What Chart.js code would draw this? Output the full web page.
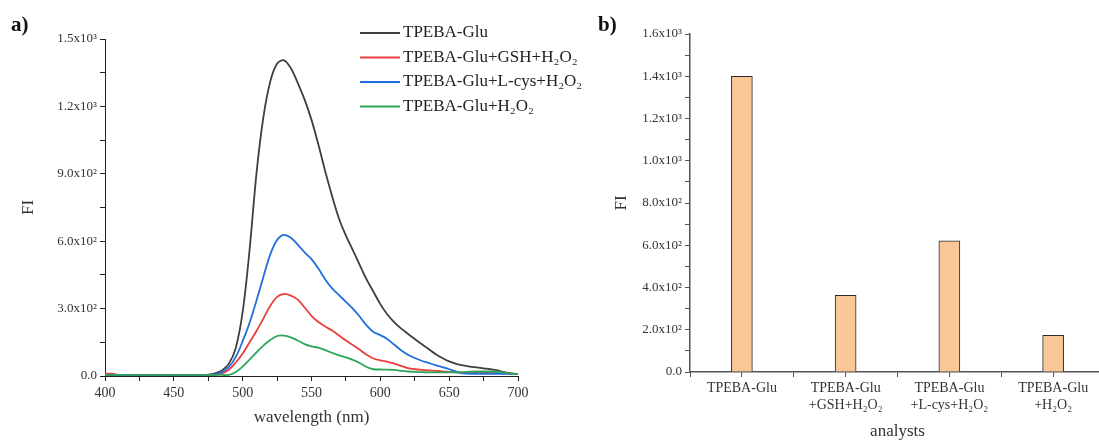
<!DOCTYPE html>
<html>
<head>
<meta charset="utf-8">
<script src="https://cdn.jsdelivr.net/npm/chart.js@4"></script>
<style>
html, body { margin: 0; padding: 0; background: #fff; overflow: hidden; }
#wrapA { position: absolute; left: 0; top: 0; width: 600px; height: 443px; z-index: 2; }
#wrapB { position: absolute; left: 560px; top: 0; width: 548px; height: 443px; z-index: 1; }
</style>
</head>
<body>
<div id="wrapA"><canvas id="chartA"></canvas></div>
<div id="wrapB"><canvas id="chartB"></canvas></div>
<script>
// panel a: emission spectra
const wavelengths = [400, 405, 410, 415, 420, 425, 430, 435, 440, 445, 450, 455, 460, 465, 470, 475, 480, 485, 490, 495,
    500, 505, 510, 515, 520, 525, 530, 535, 540, 545, 550, 555, 560, 565, 570, 575, 580, 585, 590, 595,
    600, 605, 610, 615, 620, 625, 630, 635, 640, 645, 650, 655, 660, 665, 670, 675, 680, 685, 690, 695, 700];

const fiProbe = [5, 5, 5, 5, 5, 5, 5, 5, 5, 5, 5, 5, 5, 5, 5, 6, 12, 25, 55, 125,
    285, 560, 900, 1150, 1310, 1390, 1405, 1370, 1305, 1230, 1140, 1030, 910, 800, 700, 625, 560, 495, 430, 375,
    320, 275, 240, 212, 188, 165, 142, 120, 98, 80, 65, 54, 47, 42, 38, 34, 30, 25, 17, 12, 8];

const fiGSH = [10, 10, 5, 5, 5, 5, 5, 5, 5, 5, 5, 5, 5, 5, 5, 5, 5, 12, 28, 60,
    100, 150, 200, 255, 312, 352, 365, 358, 340, 305, 268, 240, 220, 202, 180, 158, 138, 117, 95, 78,
    70, 64, 55, 45, 35, 30, 27, 25, 23, 21, 18, 16, 15, 15, 15, 14, 14, 13, 12, 10, 8];

const fiCys = [5, 5, 5, 5, 5, 5, 5, 5, 5, 5, 5, 5, 5, 5, 5, 5, 7, 18, 40, 85,
    155, 236, 335, 440, 540, 605, 628, 615, 585, 550, 520, 478, 430, 390, 360, 330, 300, 265, 225, 196,
    182, 165, 140, 115, 95, 80, 68, 58, 48, 40, 30, 20, 12, 10, 10, 10, 10, 10, 10, 9, 8];

const fiH2O2 = [5, 5, 5, 5, 5, 5, 5, 5, 5, 5, 5, 5, 5, 5, 5, 5, 5, 5, 5, 18,
    42, 73, 105, 135, 160, 178, 180, 172, 158, 142, 132, 126, 115, 103, 92, 83, 72, 58, 40, 30,
    29, 28, 27, 23, 20, 18, 17, 16, 16, 16, 16, 16, 17, 19, 20, 20, 20, 19, 15, 10, 8];

const seriesNames = ["TPEBA-Glu", "TPEBA-Glu+GSH+H₂O₂", "TPEBA-Glu+L-cys+H₂O₂", "TPEBA-Glu+H₂O₂"];

// panel b: intensity per analyte
const analysts = [["TPEBA-Glu"], ["TPEBA-Glu", "+GSH+H₂O₂"], ["TPEBA-Glu", "+L-cys+H₂O₂"], ["TPEBA-Glu", "+H₂O₂"]];
const barValues = [1400, 363, 621, 174];

Chart.defaults.font.family = "'Liberation Serif', 'DejaVu Serif', serif";
Chart.defaults.color = "#333";

const sup = { "0": "⁰", "1": "¹", "2": "²", "3": "³", "4": "⁴", "5": "⁵", "6": "⁶", "7": "⁷", "8": "⁸", "9": "⁹" };
function sci(v) {
    if (v === 0) return "0.0";
    const e = Math.floor(Math.log10(v) + 1e-9);
    const m = (v / Math.pow(10, e)).toFixed(1);
    return m + "x10" + String(e).split("").map(c => sup[c]).join("");
}

const panelLabel = {
    id: "panelLabel",
    afterDraw(chart, args, opts) {
        const ctx = chart.ctx;
        ctx.save();
        ctx.font = "bold 21px 'Liberation Serif'";
        ctx.fillStyle = "#111";
        ctx.textBaseline = "middle";
        ctx.fillText(opts.text, opts.x, opts.y);
        ctx.restore();
    }
};

const lineLegend = {
    id: "lineLegend",
    afterDraw(chart, args, opts) {
        if (!opts.show) return;
        const ctx = chart.ctx;
        ctx.save();
        ctx.font = "17px 'Liberation Serif'";
        ctx.textBaseline = "middle";
        chart.data.datasets.forEach((ds, i) => {
            const y = opts.top + i * opts.rowGap;
            ctx.strokeStyle = ds.borderColor;
            ctx.lineWidth = 2;
            ctx.beginPath();
            ctx.moveTo(opts.left, y);
            ctx.lineTo(opts.left + 40, y);
            ctx.stroke();
            ctx.fillStyle = "#222";
            ctx.fillText(ds.label, opts.left + 43, y);
        });
        ctx.restore();
    }
};

const toPoints = arr => wavelengths.map((w, i) => ({ x: w, y: arr[i] }));

const chartA = new Chart(document.getElementById("chartA").getContext("2d"), {
    type: "line",
    data: {
        datasets: [
            { label: seriesNames[0], data: toPoints(fiProbe), borderColor: "#3f3f3f", order: 3 },
            { label: seriesNames[1], data: toPoints(fiGSH), borderColor: "#e8413c", order: 2 },
            { label: seriesNames[2], data: toPoints(fiCys), borderColor: "#1f6fde", order: 1 },
            { label: seriesNames[3], data: toPoints(fiH2O2), borderColor: "#2da55a", order: 0 }
        ]
    },
    options: {
        responsive: true,
        maintainAspectRatio: false,
        animation: false,
        layout: { padding: { left: 0, right: 82, top: 39, bottom: 0 } },
        elements: { point: { radius: 0 }, line: { borderWidth: 1.8, tension: 0.35 } },
        scales: {
            x: {
                type: "linear", min: 400, max: 700,
                ticks: { stepSize: 25, autoSkip: false, maxRotation: 0, padding: 4, color: "#333", font: { size: 14 },
                    callback: v => (v % 50 === 0 ? String(v) : "") },
                grid: { drawOnChartArea: false, tickLength: 5, tickColor: "#222" },
                border: { color: "#222", width: 1 },
                title: { display: true, text: "wavelength (nm)", font: { size: 17 }, color: "#333", padding: { top: 0, bottom: 15 } },
                afterFit: s => { s.height = 67; }
            },
            y: {
                min: 0, max: 1500,
                ticks: { stepSize: 150, autoSkip: false, padding: 3, color: "#333", font: { size: 13 },
                    callback: v => (v % 300 === 0 ? sci(v) : "") },
                grid: { drawOnChartArea: false, tickLength: 5, tickColor: "#222" },
                border: { color: "#222", width: 1 },
                title: { display: true, text: "FI", font: { size: 17 }, color: "#333", padding: { top: 18, bottom: 0 } },
                afterFit: s => { s.width = 105; }
            }
        },
        plugins: {
            legend: { display: false },
            tooltip: { enabled: false },
            panelLabel: { text: "a)", x: 11, y: 26 },
            lineLegend: { show: true, left: 360, top: 33, rowGap: 24.5 }
        }
    },
    plugins: [panelLabel, lineLegend]
});

const chartB = new Chart(document.getElementById("chartB").getContext("2d"), {
    type: "bar",
    data: {
        datasets: [{
            label: "FI",
            data: barValues.map((v, i) => ({ x: i + 0.5, y: v })),
            backgroundColor: "#fac796",
            borderColor: "#2b2b2b",
            borderWidth: 1,
            barThickness: 21
        }]
    },
    options: {
        responsive: true,
        maintainAspectRatio: false,
        animation: false,
        layout: { padding: { left: 0, right: 2, top: 34, bottom: 0 } },
        scales: {
            x: {
                type: "linear", min: 0, max: analysts.length, offset: false,
                ticks: { stepSize: 0.5, autoSkip: false, maxRotation: 0, padding: 3, color: "#333", font: { size: 14, lineHeight: 1.2 },
                    callback: v => (Number.isInteger(v) ? "" : analysts[Math.floor(v)]) },
                grid: { drawOnChartArea: false, offset: false, tickLength: 5, tickColor: "#555" },
                border: { color: "#555", width: 1.5 },
                title: { display: true, text: "analysts", font: { size: 17 }, color: "#333", padding: { top: 0, bottom: 1 } },
                afterFit: s => { s.height = 71; }
            },
            y: {
                min: 0, max: 1600,
                ticks: { stepSize: 100, autoSkip: false, padding: 3, color: "#333", font: { size: 13 },
                    callback: v => (v % 200 === 0 ? sci(v) : "") },
                grid: { drawOnChartArea: false, tickLength: 5, tickColor: "#555" },
                border: { color: "#555", width: 1.5 },
                title: { display: true, text: "FI", font: { size: 17 }, color: "#333", padding: { top: 51, bottom: 0 } },
                afterFit: s => { s.width = 130; }
            }
        },
        plugins: {
            legend: { display: false },
            tooltip: { enabled: false },
            panelLabel: { text: "b)", x: 38, y: 26 },
            lineLegend: { show: false }
        }
    },
    plugins: [panelLabel, lineLegend]
});
</script>
</body>
</html>
